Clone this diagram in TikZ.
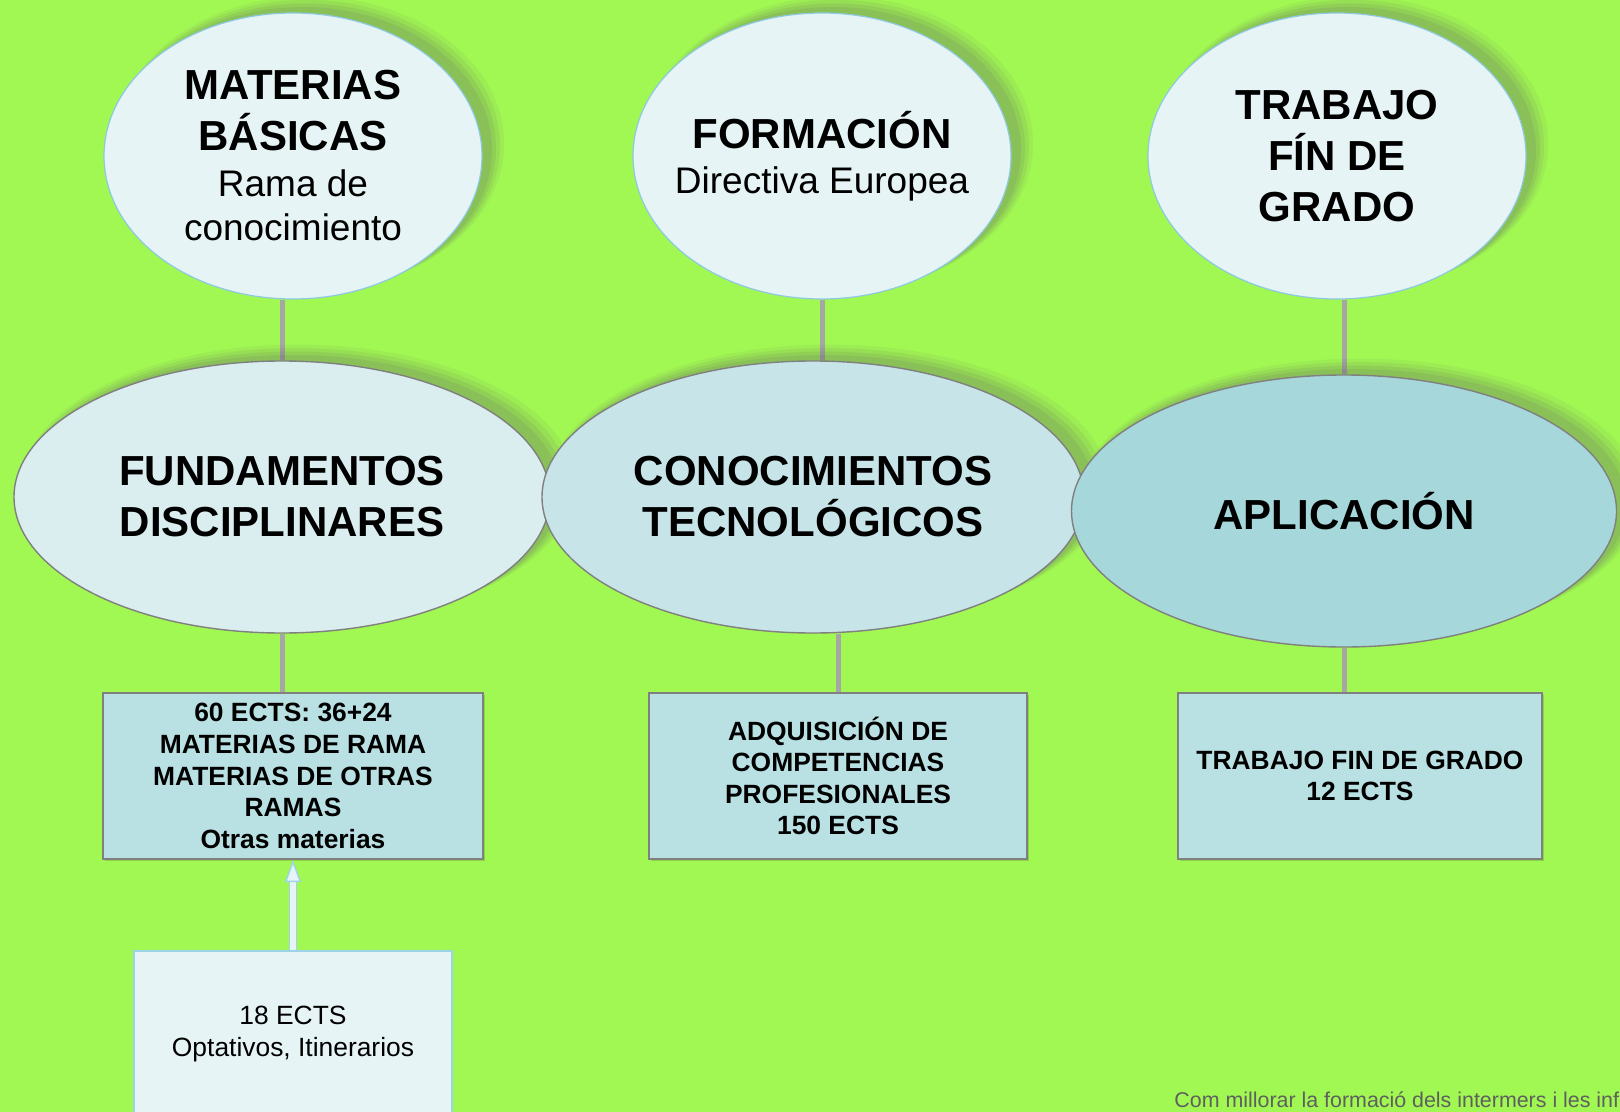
\documentclass[tikz,border=0pt]{standalone}
\usepackage{fontspec}
\setmainfont{Liberation Sans}
\usetikzlibrary{shapes.geometric,shadows,arrows.meta,backgrounds}

\definecolor{lawn}{HTML}{A1F852}
\definecolor{topicfill}{HTML}{E6F4F5}
\definecolor{topicline}{HTML}{8DC9DF}
\definecolor{fundfill}{HTML}{DAEDEF}
\definecolor{confill}{HTML}{C7E5E8}
\definecolor{aplfill}{HTML}{A6D7DB}
\definecolor{pillarline}{HTML}{808080}
\definecolor{boxfill}{HTML}{B9E1E4}
\definecolor{linkgray}{HTML}{A6A6A6}
\definecolor{extraline}{HTML}{9CD3E6}
\definecolor{footgray}{HTML}{5F5F5F}

\newcommand\titlefont{\fontsize{21}{25.5}\selectfont\bfseries}
\newcommand\notefont{\fontsize{18.5}{22}\selectfont\mdseries}
\newcommand\boxfont{\fontsize{13.2}{15.8}\selectfont\bfseries}
\newcommand\extrafont{\fontsize{13.2}{16}\selectfont}

\begin{document}
\begin{tikzpicture}[x=.5pt,y=-.5pt]
  \tikzstyle{softshadow} = [general shadow={fill=black!60, opacity=.08, shadow xshift=8pt,
                                    shadow yshift=6pt, shadow scale=1.03},
                            general shadow={fill=black!60, opacity=.1, shadow xshift=7pt,
                                    shadow yshift=5pt, shadow scale=1.02},
                            general shadow={fill=black!60, opacity=.12, shadow xshift=6pt,
                                    shadow yshift=4pt, shadow scale=1.01},
                            general shadow={fill=black!60, opacity=.14, shadow xshift=5pt,
                                    shadow yshift=3pt}]
  \tikzstyle{topic} = [ellipse, draw=topicline, line width=.6pt, fill=topicfill, inner sep=0pt,
                                    inner xsep=-10pt, minimum width=189pt, minimum height=143pt,
                                    align=center, font=\titlefont, softshadow]
  \tikzstyle{pillar} = [ellipse, draw=pillarline, line width=.7pt, inner sep=0pt,
                                    minimum width=268pt, minimum height=136pt, align=center,
                                    font=\titlefont, softshadow]
  \tikzstyle{block} = [rectangle, draw=pillarline, line width=1pt, fill=boxfill, inner sep=2pt,
                                    minimum width=190pt, minimum height=83pt, align=center,
                                    font=\boxfont, general shadow={fill=black, opacity=.15,
                                    shadow xshift=1pt, shadow yshift=-1pt}]
  \tikzstyle{extra} = [rectangle, draw=extraline, line width=.8pt, fill=topicfill,
                                    minimum width=159pt, minimum height=83pt, align=center,
                                    font=\extrafont]
  \tikzstyle{link} = [draw=linkgray, line width=2.5pt]
  \tikzstyle{uparrow} = [draw=extraline, line width=.7pt, double=topicfill, double distance=2.8pt,
                                    -{Triangle[width=8pt,length=11pt,fill=topicfill]}]
\useasboundingbox (0,0) rectangle (1620,1112);
\clip (0,0) rectangle (1620,1112);
\node[topic] (basicas) at (293,156) {MATERIAS\\ BÁSICAS\\[-2.5pt] \notefont Rama de\\[-3.5pt] \notefont conocimiento};
\node[topic, right of=basicas, node distance=264.5pt] (formacion) {FORMACIÓN\\[-3pt] \notefont Directiva Europea};
\node[topic, right of=formacion, node distance=257.5pt] (trabajo) {TRABAJO\\ FÍN DE\\ GRADO};
\node[pillar, fill=fundfill, below of=basicas, node distance=170.5pt, xshift=-5.5pt] (fund) {FUNDAMENTOS\\ DISCIPLINARES};
\node[pillar, fill=confill, right of=fund, node distance=265.5pt, minimum width=271pt] (con) {CONOCIMIENTOS\\ TECNOLÓGICOS};
\node[pillar, fill=aplfill, right of=con, node distance=265.5pt, yshift=-7pt, minimum width=272.5pt] (apl) {APLICACIÓN};
\node[block, below of=fund, node distance=139.5pt, xshift=5.5pt] (ects) {60 ECTS: 36+24\\ MATERIAS DE RAMA\\ MATERIAS DE OTRAS\\ RAMAS\\ Otras materias};
\node[block, right of=ects, node distance=272.5pt, minimum width=189pt] (comp) {ADQUISICIÓN DE\\ COMPETENCIAS\\ PROFESIONALES\\ 150 ECTS};
\node[block, right of=comp, node distance=261pt, minimum width=182pt] (tfg) {TRABAJO FIN DE GRADO\\ 12 ECTS};
\node[extra, below of=ects, node distance=129pt] (opt) {18 ECTS\\ Optativos, Itinerarios};
\node[anchor=base west, inner sep=0pt, text=footgray, font=\fontsize{10.7}{13}\selectfont] (foot) at (1174,1107) {Com millorar la formació dels intermers i les inf};
\draw[uparrow] (opt.north) -- (ects.south);
\begin{scope}[on background layer]
  \fill[lawn] (0,0) rectangle (1620,1112);
  \draw[link] (basicas.south -| fund.north) -- (fund.north);
  \draw[link] (fund.south) -- (fund.south |- ects.north);
  \draw[link] (formacion.south) -- (formacion.south |- con.north);
  \draw[link] (comp.north |- con.south) -- (comp.north);
  \draw[link] (apl.north |- trabajo.south) -- (apl.north);
  \draw[link] (apl.south) -- (apl.south |- tfg.north);
\end{scope}
\end{tikzpicture}
\end{document}
